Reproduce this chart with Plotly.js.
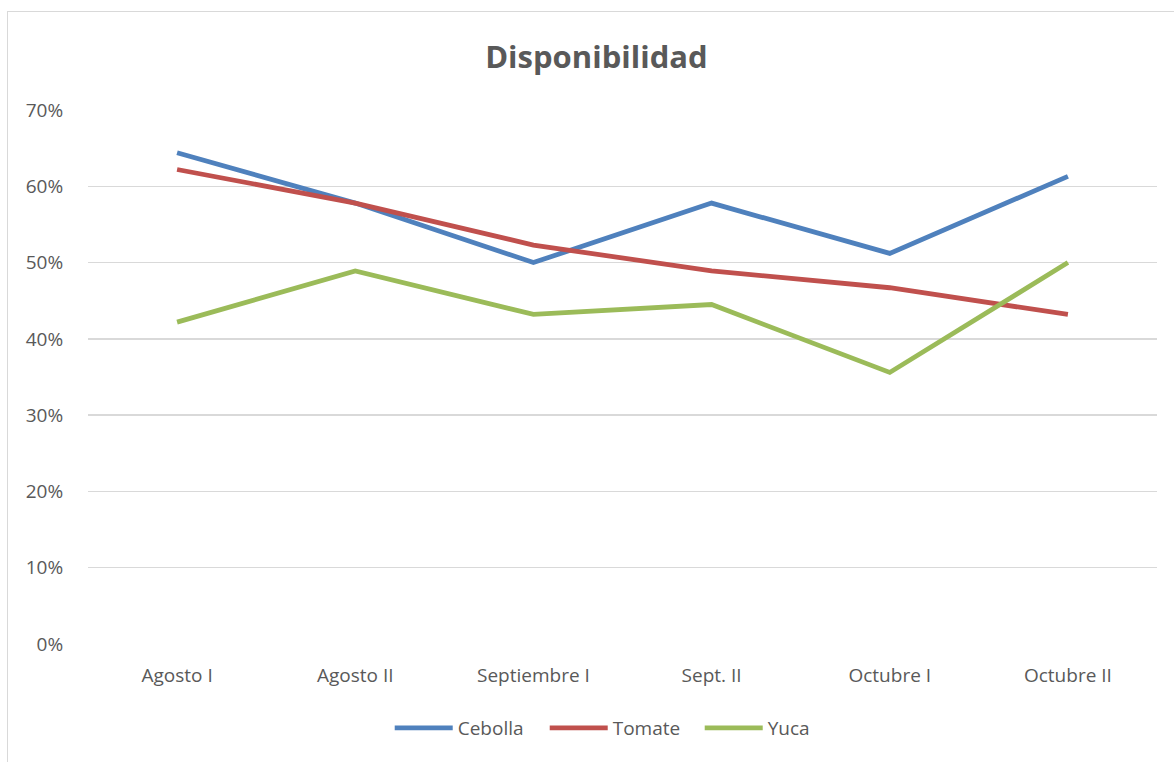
<!DOCTYPE html>
<html>
<head>
<meta charset="utf-8">
<script src="https://cdn.plot.ly/plotly-3.0.1.min.js"></script>
<style>
html,body{margin:0;padding:0;overflow:hidden;background:#fff;}
#frame{position:absolute;left:7px;top:11px;width:1300px;height:900px;border:1px solid #d9d9d9;box-sizing:border-box;}
#chart{position:absolute;left:0;top:0;width:1174px;height:762px;}
</style>
</head>
<body>
<div id="frame"></div>
<div id="chart"></div>
<script>
const categories = ["Agosto I", "Agosto II", "Septiembre I", "Sept. II", "Octubre I", "Octubre II"];
const cebolla = [0.644, 0.578, 0.500, 0.578, 0.512, 0.613];
const tomate  = [0.622, 0.578, 0.523, 0.489, 0.467, 0.432];
const yuca    = [0.422, 0.489, 0.432, 0.445, 0.356, 0.500];
const yTicks = [0, 0.1, 0.2, 0.3, 0.4, 0.5, 0.6, 0.7];
const yTickText = ["0%", "10%", "20%", "30%", "40%", "50%", "60%", "70%"];

const font = "'Open Sans', 'Noto Sans', sans-serif";
const mk = (name, y, color) => ({
  type: "scatter", mode: "lines", name: name, x: categories, y: y,
  line: {color: color, width: 4.8}
});
const data = [
  mk("Cebolla", cebolla, "#4f81bd"),
  mk("Tomate", tomate, "#c0504d"),
  mk("Yuca", yuca, "#9bbb59")
];
const layout = {
  width: 1174, height: 762,
  paper_bgcolor: "rgba(0,0,0,0)", plot_bgcolor: "rgba(0,0,0,0)",
  margin: {l: 88, r: 17, t: 110, b: 117.5, autoexpand: false},
  font: {family: font, color: "#595959", size: 19},
  title: {text: "<b>Disponibilidad</b>", x: 0.508, xanchor: "center", y: 0.925, yanchor: "middle",
          font: {family: font, size: 31, color: "#595959"}},
  xaxis: {type: "category", range: [-0.5, 5.5], showgrid: false, zeroline: false,
          showline: false, ticks: "outside", ticklen: 14, tickcolor: "rgba(0,0,0,0)",
          tickfont: {size: 19, color: "#595959"}, fixedrange: true},
  yaxis: {range: [0, 0.7], tickvals: yTicks, ticktext: yTickText, showgrid: true,
          gridcolor: "#d9d9d9", gridwidth: 1.5, zeroline: false, showline: false,
          ticks: "outside", ticklen: 20, tickcolor: "rgba(0,0,0,0)",
          tickfont: {size: 19, color: "#595959"}, fixedrange: true},
  showlegend: true,
  legend: {orientation: "h", x: 0.53, xanchor: "center", xref: "container",
           y: 0.0446, yanchor: "middle", yref: "container",
           font: {size: 19, color: "#595959"}, itemwidth: 58, entrywidth: 82,
           entrywidthmode: "pixels", tracegroupgap: 0,
           bgcolor: "rgba(0,0,0,0)"}
};
Plotly.newPlot("chart", data, layout, {displayModeBar: false, staticPlot: true});
</script>
</body>
</html>
